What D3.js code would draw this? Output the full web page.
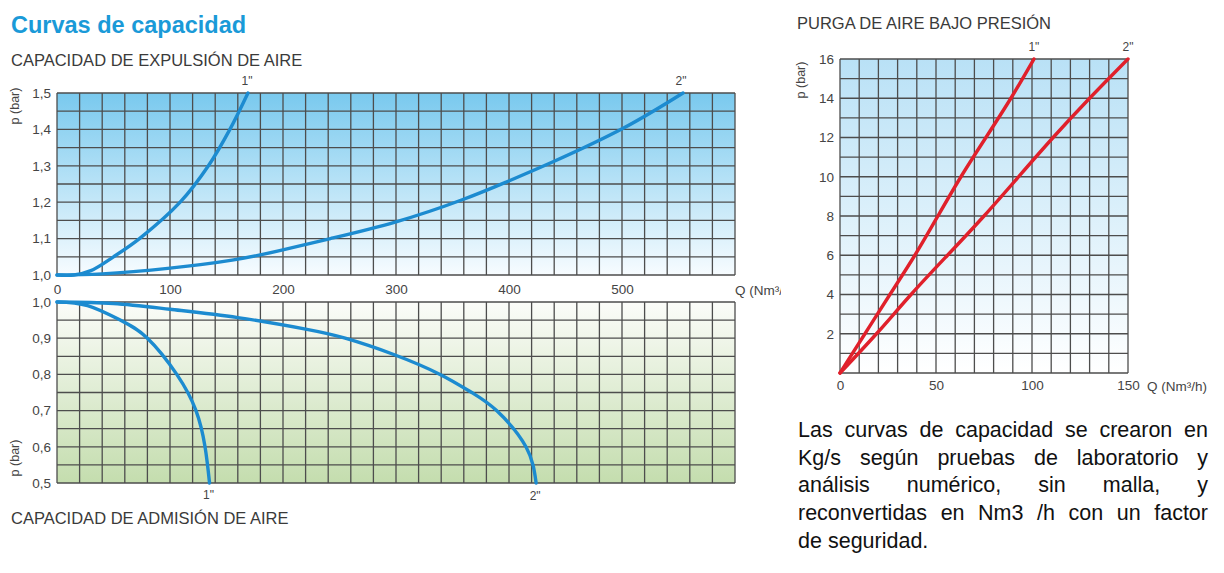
<!DOCTYPE html>
<html><head><meta charset="utf-8">
<script src="https://cdn.jsdelivr.net/npm/d3@7"></script>
<style>
body{margin:0;background:#fff;}
svg{display:block;font-family:"Liberation Sans",Arial,Helvetica,sans-serif;}
</style></head>
<body><svg id="c" width="1224" height="573"></svg>
<script>
// ---------- DATA ----------
const expulsionQ1 = [0, 15, 30, 50, 73, 109, 134, 153, 169];
const expulsionP1 = [1.0, 1.0, 1.012, 1.05, 1.1, 1.2, 1.3, 1.4, 1.5];
const expulsionQ2 = [0, 40, 100, 155, 197, 242, 300, 358, 398, 439, 501, 554];
const expulsionP2 = [1.0, 1.003, 1.019, 1.041, 1.067, 1.10, 1.146, 1.206, 1.256, 1.311, 1.403, 1.5];

const admisionQ1 = [0, 27, 56, 80, 106, 123, 131, 135];
const admisionP1 = [1.0, 0.99, 0.95, 0.9, 0.8, 0.7, 0.6, 0.5];
const admisionQ2 = [0, 50, 100, 160, 220, 255, 298, 339, 367, 389, 415, 424];
const admisionP2 = [1.0, 0.996, 0.98, 0.957, 0.925, 0.9, 0.855, 0.8, 0.75, 0.7, 0.6, 0.5];

const purgaQ1 = [0, 13, 26, 39, 51, 63, 76, 89, 101];
const purgaP1 = [0, 2, 4, 6, 8, 10, 12, 14, 16];
const purgaQ2 = [0, 19, 37, 56, 75, 93, 111, 130, 150];
const purgaP2 = [0, 2, 4, 6, 8, 10, 12, 14, 16];

const seriesLabels = ['1"', '2"'];
const expXTicks = [0, 100, 200, 300, 400, 500];
const expYTicks = [1.0, 1.1, 1.2, 1.3, 1.4, 1.5];
const admYTicks = [0.5, 0.6, 0.7, 0.8, 0.9, 1.0];
const purXTicks = [0, 50, 100, 150];
const purYTicks = [2, 4, 6, 8, 10, 12, 14, 16];

const title = "Curvas de capacidad";
const subTop = "CAPACIDAD DE EXPULSIÓN DE AIRE";
const subBottom = "CAPACIDAD DE ADMISIÓN DE AIRE";
const subRight = "PURGA DE AIRE BAJO PRESIÓN";
const yLabel = "p (bar)";
const qLabel = "Q (Nm³/h)";
const noteLines = [
  "Las curvas de capacidad se crearon en",
  "Kg/s según pruebas de laboratorio y",
  "análisis numérico, sin malla, y",
  "reconvertidas en Nm3 /h con un factor",
  "de seguridad."
];

// ---------- SETUP ----------
const svg = d3.select("#c");
const defs = svg.append("defs");
const loc = d3.formatLocale({decimal: ",", thousands: ".", grouping: [3], currency: ["", ""]});
const f1 = loc.format(".1f");
const gridColor = "#4d4d4d";
const textColor = "#444";
const blue = "#1c8bd0";
const red = "#e0202b";

function grad(id, c0, c1) {
  const g = defs.append("linearGradient").attr("id", id).attr("x1", 0).attr("y1", 0).attr("x2", 0).attr("y2", 1);
  g.append("stop").attr("offset", "0%").attr("stop-color", c0);
  g.append("stop").attr("offset", "100%").attr("stop-color", c1);
}
grad("gTop", "#79c9ee", "#f7fcff");
grad("gBot", "#fbfcf9", "#c4ddae");
grad("gRight", "#b9e1f6", "#ffffff");

function panel(x, y, fill, xStep, yStep) {
  const [x0, x1] = x.range(), [y0, y1] = y.range();
  const g = svg.append("g");
  g.append("rect").attr("x", x0).attr("y", Math.min(y0, y1)).attr("width", x1 - x0)
    .attr("height", Math.abs(y1 - y0)).attr("fill", `url(#${fill})`);
  const xd = x.domain(), yd = y.domain();
  const xs = d3.range(xd[0], xd[1] + xStep / 2, xStep);
  const ys = d3.range(0, Math.round((yd[1] - yd[0]) / yStep) + 1).map(i => yd[0] + i * yStep);
  g.selectAll(".vx").data(xs).join("line")
    .attr("x1", d => x(d)).attr("x2", d => x(d)).attr("y1", y0).attr("y2", y1)
    .attr("stroke", gridColor).attr("stroke-width", 1.3);
  g.selectAll(".hy").data(ys).join("line")
    .attr("y1", d => y(d)).attr("y2", d => y(d)).attr("x1", x0).attr("x2", x1)
    .attr("stroke", gridColor).attr("stroke-width", 1.3);
  return g;
}

function curve(x, y, qs, ps, color, curveType) {
  const pts = qs.map((q, i) => [q, ps[i]]);
  svg.append("path").datum(pts)
    .attr("d", d3.line().x(d => x(d[0])).y(d => y(d[1])).curve(curveType))
    .attr("fill", "none").attr("stroke", color).attr("stroke-width", 3.4)
    .attr("stroke-linecap", "round");
}

function yAxisLabels(y, ticks, xPos, fmt) {
  const g = svg.append("g").attr("transform", `translate(${xPos},0)`)
    .call(d3.axisLeft(y).tickValues(ticks).tickFormat(fmt).tickSize(0).tickPadding(0));
  g.select(".domain").remove();
  g.selectAll("text").attr("fill", textColor).style("font-size", "13.5px").style("font-family", "Liberation Sans, Arial, sans-serif");
}
function xAxisLabels(x, ticks, yPos, fmt) {
  const g = svg.append("g").attr("transform", `translate(0,${yPos})`)
    .call(d3.axisBottom(x).tickValues(ticks).tickFormat(fmt).tickSize(0).tickPadding(0));
  g.select(".domain").remove();
  g.selectAll("text").attr("fill", textColor).style("font-size", "13.5px").style("font-family", "Liberation Sans, Arial, sans-serif");
}
function rotLabel(x, y) {
  svg.append("text").attr("transform", `translate(${x},${y}) rotate(-90)`)
    .attr("text-anchor", "middle").attr("fill", textColor).style("font-size", "12.5px").text(yLabel);
}

// ---------- TITLES ----------
svg.append("text").attr("x", 11).attr("y", 33).attr("fill", "#1a9ad8")
  .style("font-size", "23.5px").style("font-weight", "bold").text(title);
svg.append("text").attr("x", 11).attr("y", 66).attr("fill", "#3a3a3a")
  .style("font-size", "16.5px").text(subTop);
svg.append("text").attr("x", 11).attr("y", 524).attr("fill", "#3a3a3a")
  .style("font-size", "16.5px").text(subBottom);
svg.append("text").attr("x", 797).attr("y", 29).attr("fill", "#3a3a3a")
  .style("font-size", "16.5px").text(subRight);

// ---------- TOP: EXPULSION ----------
const xTop = d3.scaleLinear().domain([0, 600]).range([57, 735]);
const yTop = d3.scaleLinear().domain([1.0, 1.5]).range([275, 93]);
panel(xTop, yTop, "gTop", 20, 0.05);
curve(xTop, yTop, expulsionQ1, expulsionP1, blue, d3.curveCatmullRom.alpha(0.5));
curve(xTop, yTop, expulsionQ2, expulsionP2, blue, d3.curveNatural);
yAxisLabels(yTop, expYTicks, 51, f1);
xAxisLabels(xTop, expXTicks, 284, d => d);
defs.append("clipPath").attr("id", "qclip").append("rect").attr("x", 700).attr("y", 270).attr("width", 81).attr("height", 40);
svg.append("text").attr("x", 735).attr("y", 295).attr("fill", textColor).attr("clip-path", "url(#qclip)")
  .style("font-size", "13.5px").text(qLabel);
rotLabel(19, 106);
svg.append("text").attr("x", xTop(expulsionQ1[expulsionQ1.length - 1]) - 1).attr("y", 85).attr("text-anchor", "middle")
  .attr("fill", textColor).style("font-size", "12px").text(seriesLabels[0]);
svg.append("text").attr("x", xTop(expulsionQ2[expulsionQ2.length - 1]) - 2).attr("y", 85).attr("text-anchor", "middle")
  .attr("fill", textColor).style("font-size", "12px").text(seriesLabels[1]);

// ---------- BOTTOM: ADMISION ----------
const xBot = d3.scaleLinear().domain([0, 600]).range([57, 735]);
const yBot = d3.scaleLinear().domain([0.5, 1.0]).range([483, 302]);
panel(xBot, yBot, "gBot", 20, 0.05);
curve(xBot, yBot, admisionQ1, admisionP1, blue, d3.curveNatural);
curve(xBot, yBot, admisionQ2, admisionP2, blue, d3.curveNatural);
yAxisLabels(yBot, admYTicks, 51, f1);
rotLabel(19, 458);
svg.append("text").attr("x", xBot(admisionQ1[admisionQ1.length - 1]) - 1).attr("y", 499).attr("text-anchor", "middle")
  .attr("fill", textColor).style("font-size", "12px").text(seriesLabels[0]);
svg.append("text").attr("x", xBot(admisionQ2[admisionQ2.length - 1]) - 1).attr("y", 500).attr("text-anchor", "middle")
  .attr("fill", textColor).style("font-size", "12px").text(seriesLabels[1]);

// ---------- RIGHT: PURGA ----------
const xR = d3.scaleLinear().domain([0, 150]).range([840, 1128]);
const yR = d3.scaleLinear().domain([0, 16]).range([373, 59]);
panel(xR, yR, "gRight", 10, 1);
curve(xR, yR, purgaQ1, purgaP1, red, d3.curveNatural);
curve(xR, yR, purgaQ2, purgaP2, red, d3.curveNatural);
yAxisLabels(yR, purYTicks, 834, d => d);
xAxisLabels(xR, purXTicks, 380, d => d);
svg.append("text").attr("x", 1147).attr("y", 391).attr("fill", textColor)
  .style("font-size", "13.5px").text(qLabel);
rotLabel(805, 80);
svg.append("text").attr("x", xR(purgaQ1[purgaQ1.length - 1])).attr("y", 51).attr("text-anchor", "middle")
  .attr("fill", textColor).style("font-size", "12px").text(seriesLabels[0]);
svg.append("text").attr("x", xR(purgaQ2[purgaQ2.length - 1])).attr("y", 51).attr("text-anchor", "middle")
  .attr("fill", textColor).style("font-size", "12px").text(seriesLabels[1]);

// ---------- NOTE (justified) ----------
const noteX0 = 798, noteX1 = 1208, noteY0 = 437, noteLH = 27.7;
noteLines.forEach((line, li) => {
  const words = line.split(" ");
  const t = svg.append("text").attr("y", noteY0 + li * noteLH).attr("fill", "#111").style("font-size", "21.5px");
  const spans = words.map(w => t.append("tspan").text(w));
  const widths = spans.map(s => s.node().getComputedTextLength());
  const total = d3.sum(widths);
  const last = li === noteLines.length - 1;
  const gap = last ? 6 : (noteX1 - noteX0 - total) / (words.length - 1);
  let cx = noteX0;
  spans.forEach((s, i) => { s.attr("x", cx); cx += widths[i] + gap; });
});
</script></body></html>
